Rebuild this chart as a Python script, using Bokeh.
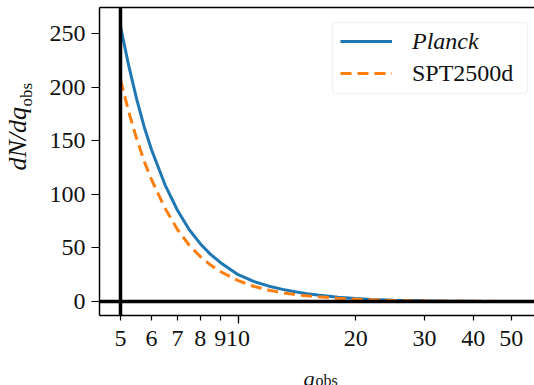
from bokeh.plotting import figure
from bokeh.layouts import row, column
from bokeh.models import (Range1d, FixedTicker, Span, Legend, LegendItem,
                          BoxAnnotation, Label, ColumnDataSource, LinearAxis)
from bokeh.embed import file_html
from bokeh.resources import INLINE

# ---- data ----
q_obs = [5, 5.25, 5.5, 5.75, 6, 6.5, 7, 7.5, 8, 8.5, 9, 10, 11, 12, 13, 14, 15, 16,
         18, 20, 22, 25, 30, 35, 40, 50, 60]
planck = [257, 220, 189, 163, 142, 109, 85, 67, 54, 44, 36.5, 25, 18.5, 14.3, 11.3,
          9.0, 7.3, 6.0, 4.0, 2.7, 1.9, 1.2, 0.6, 0.3, 0.15, 0.04, 0.01]
spt2500d = [207, 177, 152, 131, 114, 87, 67, 52.5, 42, 34, 28, 19.5, 14, 10.5, 8.2,
            6.5, 5.3, 4.4, 3.0, 2.1, 1.5, 0.95, 0.5, 0.25, 0.13, 0.035, 0.01]

x_ticks = [5, 6, 7, 8, 9, 10, 20, 30, 40, 50]
x_tick_labels = ["5", "6", "7", "8", "9", "10", "20", "30", "40", "50"]
y_ticks = [0, 50, 100, 150, 200, 250]
q_cut = 5

FONT = "Liberation Serif"
BLUE = "#1f77b4"
ORANGE = "#ff7f0e"
INK = "#111111"

src = ColumnDataSource(dict(q=q_obs, planck=planck, spt=spt2500d))

p = figure(width=498, height=357, x_axis_type="log",
           x_range=Range1d(4.418, 57.35), y_range=Range1d(-13.1, 274.6),
           output_backend="svg", toolbar_location=None, title=None,
           min_border_left=63, min_border_right=0, min_border_top=7,
           min_border_bottom=42)
p.grid.visible = False
p.background_fill_color = "white"
p.border_fill_color = "white"
p.outline_line_color = None

# axes (bottom and left)
xa = p.below[0]
xa.ticker = FixedTicker(ticks=x_ticks, minor_ticks=[10])
xa.major_label_overrides = {t: l for t, l in zip(x_ticks, x_tick_labels)}
xa.major_tick_out = 5
xa.major_tick_in = 0
xa.minor_tick_out = 8
xa.minor_tick_in = 0
xa.major_label_standoff = 7

ya = p.left[0]
ya.ticker = FixedTicker(ticks=y_ticks, minor_ticks=[])
ya.major_tick_out = 8
ya.major_tick_in = 0
ya.major_label_standoff = 6

for ax in (xa, ya):
    ax.axis_line_color = "black"
    ax.axis_line_width = 1.5
    ax.major_tick_line_color = "black"
    ax.major_tick_line_width = 1.2
    ax.minor_tick_line_color = "black"
    ax.minor_tick_line_width = 1.2
    ax.major_label_text_font = FONT
    ax.major_label_text_font_size = "24px"
    ax.major_label_text_color = INK

# top border drawn as a bare axis (the right border lies outside the picture)
top_axis = LinearAxis(ticker=FixedTicker(ticks=[], minor_ticks=[]),
                      major_tick_out=0, major_tick_in=0,
                      minor_tick_out=0, minor_tick_in=0,
                      major_label_standoff=0,
                      major_label_text_font_size="1px",
                      axis_line_color="black", axis_line_width=1.5)
p.add_layout(top_axis, "above")

# reference lines
p.add_layout(Span(location=q_cut, dimension="height", line_color="black", line_width=3.5))
p.add_layout(Span(location=0, dimension="width", line_color="black", line_width=3.5))

# curves
r_planck = p.line("q", "planck", source=src, line_color=BLUE, line_width=3)
r_spt = p.line("q", "spt", source=src, line_color=ORANGE, line_width=3,
               line_dash="11 6")

# legend box
p.add_layout(BoxAnnotation(left=233, right=428, bottom=222, top=293,
                           left_units="screen", right_units="screen",
                           top_units="screen", bottom_units="screen",
                           fill_color="white", fill_alpha=0.8,
                           line_color="#cccccc", line_width=1.2,
                           border_radius=4, level="overlay"))

def make_legend(item, loc, style):
    return Legend(items=[item], location=loc, padding=0, margin=0, spacing=0,
                  glyph_width=52, glyph_height=30, label_height=30,
                  label_standoff=20, border_line_alpha=0,
                  background_fill_alpha=0,
                  label_text_font=FONT, label_text_font_size="24px",
                  label_text_font_style=style, label_text_color=INK)

p.add_layout(make_legend(LegendItem(label="Planck", renderers=[r_planck]), (241, 259), "italic"))
p.add_layout(make_legend(LegendItem(label="SPT2500d", renderers=[r_spt]), (241, 227), "normal"))


def label_fig(w, h):
    f = figure(width=w, height=h, x_range=Range1d(0, 1), y_range=Range1d(0, 1),
               output_backend="svg", toolbar_location=None, title=None,
               min_border=0, x_axis_location=None, y_axis_location=None)
    f.grid.visible = False
    f.outline_line_color = None
    f.background_fill_color = "white"
    f.border_fill_color = "white"
    return f


def lab(f, **kw):
    base = dict(x_units="screen", y_units="screen", text_font=FONT,
                text_color=INK)
    base.update(kw)
    f.add_layout(Label(**base))


# y-axis label: dN/dq_obs
left = label_fig(36, 357)
lab(left, x=17, y=145, text="dN/dq", angle=90, angle_units="deg",
    text_font_size="26px", text_font_style="italic",
    text_align="left", text_baseline="middle")
lab(left, x=26, y=209, text="obs", angle=90, angle_units="deg",
    text_font_size="17px", text_align="left", text_baseline="middle")

# x-axis label: q_obs
below = label_fig(534, 28)
lab(below, x=303, y=7, text="q", text_font_size="22px", text_font_style="italic",
    text_align="left", text_baseline="alphabetic")
lab(below, x=315, y=5, text="obs", text_font_size="16px",
    text_align="left", text_baseline="alphabetic")

layout = column(row(left, p, spacing=0), below, spacing=0)

open("out.html", "w").write(file_html(layout, INLINE))
